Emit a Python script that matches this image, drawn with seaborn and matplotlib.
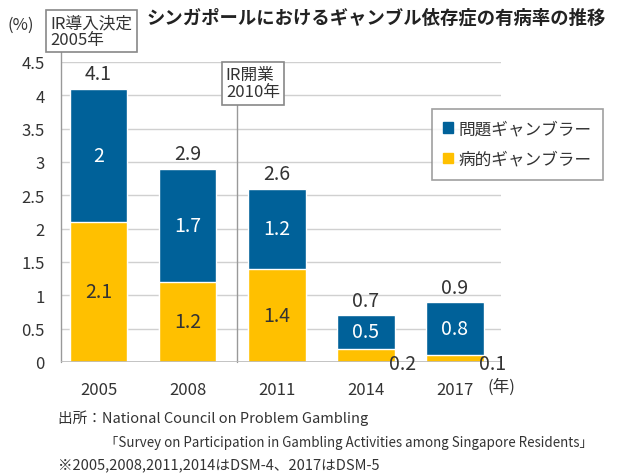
import numpy as np
import pandas as pd
import matplotlib
matplotlib.use('Agg')
import matplotlib.pyplot as plt
import seaborn as sns
from matplotlib.lines import Line2D
from matplotlib.patches import Patch

# データ
years = ["2005", "2008", "2011", "2014", "2017"]
pathological = [2.1, 1.2, 1.4, 0.2, 0.1]   # 病的ギャンブラー
problem = [2.0, 1.7, 1.2, 0.5, 0.8]        # 問題ギャンブラー
totals = [4.1, 2.9, 2.6, 0.7, 0.9]

BLUE = "#006199"
YELLOW = "#FFC000"
TXT = "#333333"

sns.set_theme(style="white")
plt.rcParams['font.family'] = ['Noto Sans CJK JP', 'DejaVu Sans']

df = pd.DataFrame({"year": years, "path": pathological, "prob": problem})
df["total"] = df["path"] + df["prob"]

fig = plt.figure(figsize=(6.17, 4.77), dpi=100)
ax = fig.add_axes([0.099, 0.239, 0.713, 0.629])

sns.barplot(data=df, x="year", y="total", color=BLUE, saturation=1, width=0.65, ax=ax)
sns.barplot(data=df, x="year", y="path", color=YELLOW, saturation=1, width=0.65, ax=ax)

ax.set_xlim(-0.42, 4.52)
ax.set_ylim(0, 4.5)
ax.set_yticks(np.arange(0, 4.51, 0.5))
ax.set_yticklabels(["0", "0.5", "1", "1.5", "2", "2.5", "3", "3.5", "4", "4.5"])
ax.yaxis.grid(True, color="#d0d0d0", linewidth=1)
ax.set_axisbelow(True)
for s in ax.spines.values():
    s.set_visible(False)
ax.tick_params(axis="y", length=7, width=1, color="#d0d0d0", labelsize=12, labelcolor=TXT, pad=5)
ax.tick_params(axis="x", length=0, labelsize=12, labelcolor=TXT, pad=14)
ax.set_xlabel("")
ax.set_ylabel("")
ax.axhline(0, color="#bbbbbb", linewidth=1.2, zorder=3)

# 縦線（軸と2010年の区切り）
ax.add_line(Line2D([-0.42, -0.42], [0, 4.98], color="#999999", lw=1, clip_on=False))
ax.add_line(Line2D([1.55, 1.55], [0, 3.9], color="#999999", lw=1, clip_on=False))

# ラベル
for i in range(len(years)):
    tot = totals[i]
    pa = pathological[i]
    pr = problem[i]
    ax.annotate(f"{tot:g}", (i, tot), xytext=(0, 3), textcoords="offset points",
                ha="center", va="bottom", fontsize=14, color=TXT)
    ax.text(i, pa + pr / 2, f"{pr:g}", ha="center", va="center", fontsize=14, color="white")
    if pa >= 0.5:
        ax.text(i, pa / 2, f"{pa:g}", ha="center", va="center", fontsize=14, color=TXT)
    else:
        ax.text(i + 0.42, -0.02, f"{pa:g}", ha="center", va="center", fontsize=14, color=TXT)

ax.text(4.52, -0.37, "(年)", ha="center", va="center", fontsize=12, color=TXT)

# 注記ボックス
box = dict(boxstyle="square,pad=0.25", fc="white", ec="#888888", lw=1.2)
fig.text(0.082, 0.933, "IR導入決定\n2005年", ha="left", va="center", fontsize=12,
         color=TXT, linespacing=1.0, bbox=box)
fig.text(0.366, 0.823, "IR開業\n2010年", ha="left", va="center", fontsize=12,
         color=TXT, linespacing=1.0, bbox=box)

fig.text(0.012, 0.946, "(%)", ha="left", va="center", fontsize=12, color=TXT)
fig.text(0.238, 0.962, "シンガポールにおけるギャンブル依存症の有病率の推移", ha="left", va="center",
         fontsize=13.2, fontweight="bold", color="#222222")

# 凡例
handles = [Patch(color=BLUE, label="問題ギャンブラー"), Patch(color=YELLOW, label="病的ギャンブラー")]
leg = fig.legend(handles=handles, loc="upper left", bbox_to_anchor=(0.686, 0.787), fontsize=12,
                 frameon=True, fancybox=False, handlelength=0.6, handleheight=0.6,
                 handletextpad=0.3, labelspacing=0.8, borderpad=0.7, labelcolor=TXT)
leg.get_frame().set_edgecolor("#888888")
leg.get_frame().set_linewidth(1.2)

# 出所
fig.text(0.094, 0.123, "出所：National Council on Problem Gambling", fontsize=10.5, color=TXT, va="center")
fig.text(0.17, 0.072, "「Survey on Participation in Gambling Activities among Singapore Residents」",
         fontsize=9.6, color=TXT, va="center")
fig.text(0.094, 0.025, "※2005,2008,2011,2014はDSM-4、2017はDSM-5", fontsize=10.5, color=TXT, va="center")

fig.savefig("out.png", dpi=100)
